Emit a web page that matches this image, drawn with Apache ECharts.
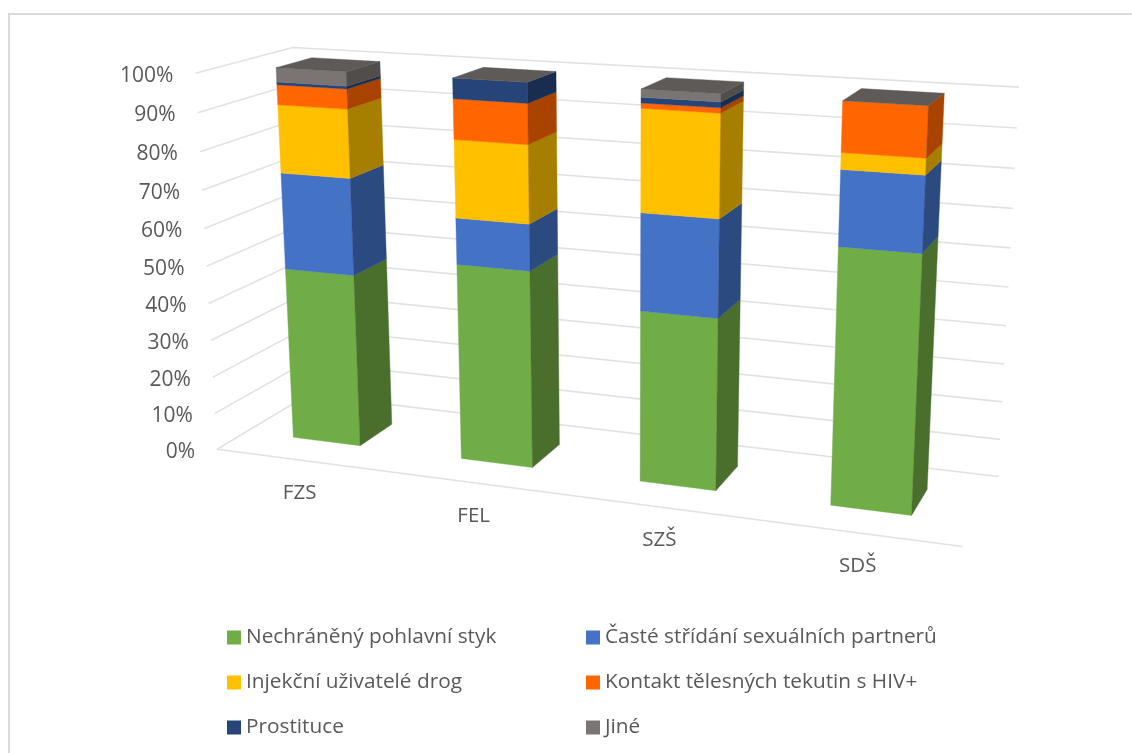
<!DOCTYPE html>
<html>
<head>
<meta charset="utf-8">
<style>html,body{margin:0;padding:0;background:#fff}#chart{width:1132px;height:753px}</style>
<script src="https://cdn.jsdelivr.net/npm/echarts@6/dist/echarts.min.js"></script>
</head>
<body>
<div id="chart"></div>
<script>
// Skoly a podily odpovedi (stacked to 100 %)
const categories = ['FZS', 'FEL', 'SZŠ', 'SDŠ'];
const nechraneny = [46.8, 52.3, 44.7, 65.2];
const stridani = [25.7, 12.1, 24.9, 18.6];
const injekcni = [17.9, 20.1, 25.7, 4];
const kontakt = [5.2, 10.3, 1.3, 12.2];
const prostituce = [0.7, 5.2, 1.4, 0];
const jine = [3.7, 0, 2, 0];
const seriesNames = ['Nechráněný pohlavní styk', 'Časté střídání sexuálních partnerů', 'Injekční uživatelé drog', 'Kontakt tělesných tekutin s HIV+', 'Prostituce', 'Jiné'];
const seriesValues = [nechraneny, stridani, injekcni, kontakt, prostituce, jine];
const frontColors = ['#70AD47', '#4472C4', '#FFC000', '#FF6600', '#264478', '#7A7573'];
const sideColors = ['#4A6F2D', '#2A4A80', '#A67E00', '#A84300', '#182D50', '#504D4B'];
const topColor = '#5E5A58';
const valueTicks = [0, 10, 20, 30, 40, 50, 60, 70, 80, 90, 100];

// Box corners [u, v, depth] -> screen point, used to fit the perspective camera
const cameraFit = [
  [0, 0, 0, 217, 449], [0, 1, 0, 195, 74],
  [0, 0, 1, 308, 395], [0, 1, 1, 293, 47],
  [1, 0, 1, 998, 477], [1, 1, 1, 1019, 87],
  [1, 0, 0, 963, 546]
];
const barWidth = 0.405, barShift = -0.01, depthFront = 0.31, depthBack = 0.69;

function solve(A, b) {
  const n = b.length, M = A.map((r, i) => r.concat(b[i]));
  for (let c = 0; c < n; c++) {
    let p = c;
    for (let r = c + 1; r < n; r++) if (Math.abs(M[r][c]) > Math.abs(M[p][c])) p = r;
    [M[c], M[p]] = [M[p], M[c]];
    for (let r = 0; r < n; r++) {
      if (r === c) continue;
      const f = M[r][c] / M[c][c];
      for (let k = c; k <= n; k++) M[r][k] -= f * M[c][k];
    }
  }
  return M.map((r, i) => r[n] / r[i]);
}
function fitCamera(points) {
  const rows = [], rhs = [];
  points.forEach(([x, y, z, X, Y]) => {
    rows.push([x, y, z, 1, 0, 0, 0, 0, -X * x, -X * y, -X * z]); rhs.push(X);
    rows.push([0, 0, 0, 0, x, y, z, 1, -Y * x, -Y * y, -Y * z]); rhs.push(Y);
  });
  const n = 11;
  const AtA = Array.from({length: n}, (_, i) => Array.from({length: n}, (_, j) => rows.reduce((s, r) => s + r[i] * r[j], 0)));
  const Atb = Array.from({length: n}, (_, i) => rows.reduce((s, r, k) => s + r[i] * rhs[k], 0));
  return solve(AtA, Atb);
}
const cam = fitCamera(cameraFit);
function project(u, v, d) {
  const w = cam[8] * u + cam[9] * v + cam[10] * d + 1;
  return [(cam[0] * u + cam[1] * v + cam[2] * d + cam[3]) / w, (cam[4] * u + cam[5] * v + cam[6] * d + cam[7]) / w];
}
// Turn a point of the hidden grid into wall fractions and project it
function toWall(api, params, cat, value, bandShift, depth) {
  const p = api.coord([cat, value]), cs = params.coordSys;
  const band = api.size([1, 0])[0];
  return project((p[0] + bandShift * band - cs.x) / cs.width, (cs.y + cs.height - p[1]) / cs.height, depth);
}
function poly(points, fill) {
  return {type: 'polygon', silent: true, shape: {points}, style: {fill, stroke: fill, lineWidth: 0.4}};
}
function barRenderer(index, drawTop) {
  return function (params, api) {
    const cat = api.value(0), lo = api.value(1), hi = api.value(2);
    const l = barShift - barWidth / 2, r = barShift + barWidth / 2;
    const children = [];
    if (hi > lo) {
      children.push(poly([toWall(api, params, cat, lo, l, depthFront), toWall(api, params, cat, lo, r, depthFront), toWall(api, params, cat, hi, r, depthFront), toWall(api, params, cat, hi, l, depthFront)], frontColors[index]));
      children.push(poly([toWall(api, params, cat, lo, r, depthFront), toWall(api, params, cat, lo, r, depthBack), toWall(api, params, cat, hi, r, depthBack), toWall(api, params, cat, hi, r, depthFront)], sideColors[index]));
    }
    if (drawTop) {
      children.push(poly([toWall(api, params, cat, hi, l, depthFront), toWall(api, params, cat, hi, r, depthFront), toWall(api, params, cat, hi, r, depthBack), toWall(api, params, cat, hi, l, depthBack)], topColor));
    }
    return {type: 'group', children};
  };
}
function stackedSegments(index) {
  return categories.map((_, c) => {
    let lo = 0;
    for (let s = 0; s < index; s++) lo += seriesValues[s][c];
    return [c, lo, lo + seriesValues[index][c]];
  });
}
const gridStyle = {stroke: '#E2E2E2', lineWidth: 1.6, fill: null};
const labelColor = '#595959', uiFont = '"Open Sans", "Noto Sans", sans-serif';

function gridRenderer(params, api) {
  const t = api.value(0), cs = params.coordSys;
  const a = api.coord([0, t]);
  const v = (cs.y + cs.height - a[1]) / cs.height;
  const children = [{type: 'polyline', silent: true, shape: {points: [project(0, v, 0), project(0, v, 1), project(1, v, 1)]}, style: gridStyle}];
  if (t === 0) children.push({type: 'line', silent: true, shape: {x1: project(0, 0, 0)[0], y1: project(0, 0, 0)[1], x2: project(1, 0, 0)[0], y2: project(1, 0, 0)[1]}, style: gridStyle});
  const q = project(0, v, 0);
  children.push({type: 'text', silent: true, style: {text: t + '%', x: q[0] - 22, y: q[1] + 2.5, align: 'right', verticalAlign: 'middle', fill: labelColor, font: '21px ' + uiFont}});
  return {type: 'group', children};
}
function categoryRenderer(params, api) {
  const cat = api.value(0), q = toWall(api, params, cat, 0, 0, 0);
  return {type: 'text', silent: true, style: {text: categories[cat], x: q[0] - 0.5, y: q[1] + 33.5, align: 'center', verticalAlign: 'middle', fill: labelColor, font: '20.5px ' + uiFont}};
}

const chart = echarts.init(document.getElementById('chart'), null, {renderer: 'canvas'});
const legendBase = {orient: 'vertical', padding: 0, icon: 'rect', itemWidth: 14, itemHeight: 14, itemGap: 24, selectedMode: false, textStyle: {color: labelColor, fontSize: 20.8, fontFamily: uiFont}};
chart.setOption({
  animation: false,
  backgroundColor: '#fff',
  graphic: [{type: 'polyline', silent: true, shape: {points: [[9, 753], [9, 14], [1132, 14]]}, style: {stroke: '#D9D9D9', lineWidth: 2, fill: null}}],
  grid: {left: 100, top: 100, width: 800, height: 400},
  xAxis: {type: 'category', data: categories, show: false},
  yAxis: {type: 'value', min: 0, max: 100, interval: 10, show: false},
  legend: [
    Object.assign({}, legendBase, {left: 227, top: 627, data: [seriesNames[0], seriesNames[2], seriesNames[4]]}),
    Object.assign({}, legendBase, {left: 586, top: 627, data: [seriesNames[1], seriesNames[3], seriesNames[5]]})
  ],
  series: [
    {type: 'custom', name: 'mřížka', z: 1, renderItem: gridRenderer, data: valueTicks.map(t => [t]), encode: {y: 0}, silent: true, clip: false},
    {type: 'custom', name: 'školy', z: 1, renderItem: categoryRenderer, data: categories.map((_, i) => [i]), encode: {x: 0}, silent: true, clip: false}
  ].concat(seriesNames.map((name, i) => ({
    type: 'custom', name, z: 2, silent: true, clip: false,
    itemStyle: {color: frontColors[i]},
    renderItem: barRenderer(i, i === seriesNames.length - 1),
    encode: {x: 0, y: [1, 2]},
    data: stackedSegments(i)
  })))
});
</script>
</body>
</html>
